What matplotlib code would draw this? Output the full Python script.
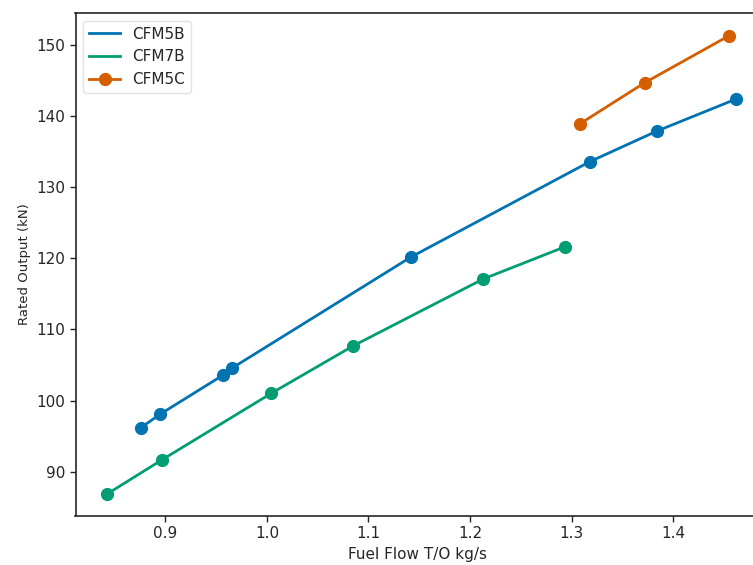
import matplotlib
matplotlib.use("Agg")
import matplotlib.pyplot as plt

cfm5b_x = [0.876, 0.895, 0.957, 0.966, 1.142, 1.318, 1.384, 1.462]
cfm5b_y = [96.2, 98.1, 103.6, 104.6, 120.2, 133.6, 137.9, 142.4]
cfm7b_x = [0.843, 0.897, 1.004, 1.085, 1.213, 1.293]
cfm7b_y = [86.9, 91.7, 101.0, 107.7, 117.1, 121.6]
cfm5c_x = [1.308, 1.372, 1.455]
cfm5c_y = [138.9, 144.7, 151.3]

xticks = [0.9, 1.0, 1.1, 1.2, 1.3, 1.4]
yticks = [90, 100, 110, 120, 130, 140, 150]

blue = "#0173b2"
green = "#029e73"
orange = "#d55e00"
txt = "#262626"

plt.rcParams['font.family'] = ['DejaVu Sans']
fig = plt.figure(figsize=(7.53, 5.65), dpi=100)
W, H = 753, 565
ax = fig.add_axes([75.5 / W, (H - 516) / H, (760 - 75.5) / W, (516 - 13) / H])

ax.plot(cfm5b_x, cfm5b_y, color=blue, lw=2, label="CFM5B")
ax.plot(cfm5b_x, cfm5b_y, 'o', color=blue, ms=8.5)
ax.plot(cfm7b_x, cfm7b_y, color=green, lw=2, label="CFM7B")
ax.plot(cfm7b_x, cfm7b_y, 'o', color=green, ms=8.5)
ax.plot(cfm5c_x, cfm5c_y, '-o', color=orange, lw=2, ms=8.5, label="CFM5C")

ax.set_xlim(0.8115, 1.4855)
ax.set_ylim(83.77, 154.5)
ax.set_xticks(xticks)
ax.set_xticklabels([f"{v:.1f}" for v in xticks])
ax.set_yticks(yticks)
ax.tick_params(colors=txt, labelsize=11, length=4, width=1)
for s in ax.spines.values():
    s.set_color(txt)
    s.set_linewidth(1.2)
ax.set_xlabel("Fuel Flow T/O kg/s", color=txt, fontsize=11)
ax.set_ylabel("Rated Output (kN)", color=txt, fontsize=9.5)
leg = ax.legend(loc="upper left", fontsize=11, frameon=True)
leg.get_frame().set_edgecolor("#dddddd")
for t in leg.get_texts():
    t.set_color(txt)

fig.savefig("out.png", dpi=100)
